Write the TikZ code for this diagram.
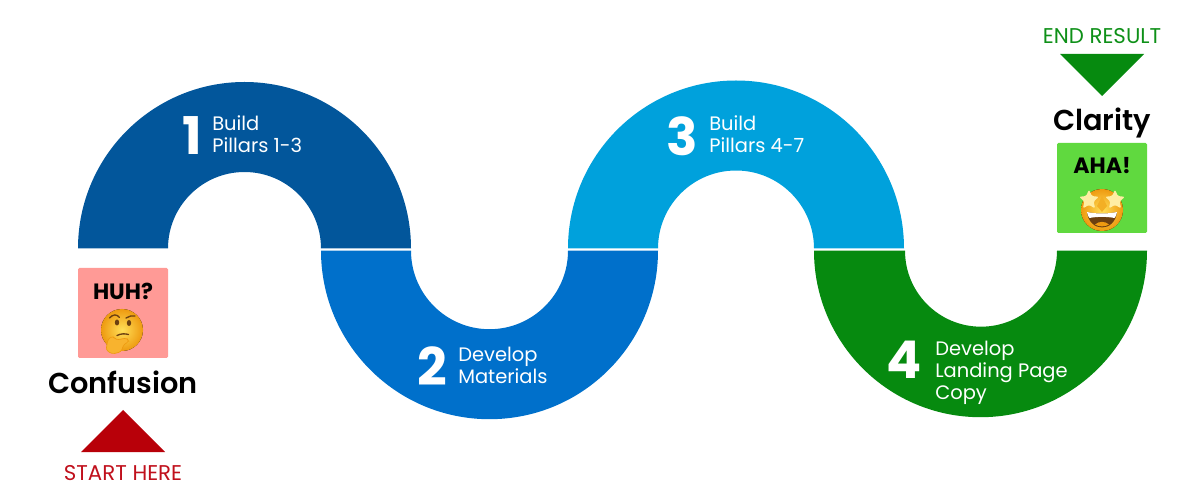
\documentclass[tikz,border=0pt]{standalone}
\usepackage{fontspec}
\setmainfont{Poppins}
\newfontfamily\titlefont{Poppins SemiBold}
\usetikzlibrary{shapes.geometric}
\definecolor{bandA}{HTML}{02569B}
\definecolor{bandB}{HTML}{0070CB}
\definecolor{bandC}{HTML}{00A1DC}
\definecolor{bandD}{HTML}{068A0F}
\definecolor{pinkbox}{HTML}{FF9A96}
\definecolor{greenbox}{HTML}{60D93F}
\definecolor{redtri}{HTML}{B80009}
\definecolor{redtxt}{HTML}{C0101C}
\definecolor{greentxt}{HTML}{0E9018}
\definecolor{faceout}{HTML}{EE9A10}
\definecolor{facein}{HTML}{FFDF58}
\definecolor{browc}{HTML}{6B3F10}
\definecolor{handc}{HTML}{F8B32E}
\tikzset{
  x=.75pt,y=.75pt,
  digit/.style={text=white,inner sep=0pt,font=\fontsize{39}{39}\selectfont\bfseries},
  steptext/.style={text=white,anchor=west,inner sep=0pt,font=\fontsize{14.6}{16.4}\selectfont,align=left},
  title/.style={text=black,inner sep=0pt,font=\titlefont\fontsize{21.6}{24}\selectfont},
  exclaim/.style={text=black,inner sep=0pt,font=\fontsize{16.6}{18}\selectfont\bfseries},
  cue/.style={inner sep=0pt,font=\fontsize{16}{17}\selectfont},
  facedisc/.style={inner color=facein,outer color=faceout},
  starglyph/.style={star,star points=5,star point ratio=2.1,inner sep=0pt,minimum size=15.5pt,fill=facein!55!white,rounded corners=1pt},
}
\begin{document}
\begin{tikzpicture}
\useasboundingbox (0,0) rectangle (1200,493);
% bands
\fill[bandA] (78,244.5) arc[start angle=180,end angle=0,radius=166.5] -- (321,244.5) arc[start angle=0,end angle=180,radius=76.5] -- cycle;
\fill[bandB] (321,242.3) arc[start angle=180,end angle=360,radius=168.5] -- (568,242.3) arc[start angle=360,end angle=180,radius=78.5] -- cycle;
\fill[bandC] (568,244.5) arc[start angle=180,end angle=0,radius=168] -- (814,244.5) arc[start angle=0,end angle=180,radius=78] -- cycle;
\fill[bandD] (814,242.3) arc[start angle=180,end angle=360,radius=166.5] -- (1057,242.3) arc[start angle=360,end angle=180,radius=76] -- cycle;
% band text
\node[digit] (d1) at (192,357) {1};
\node[steptext] (t1) at (212,358.5) {Build\\Pillars 1-3};
\node[digit] (d2) at (432,127) {2};
\node[steptext] (t2) at (458,128) {Develop\\Materials};
\node[digit] (d3) at (682,357) {3};
\node[steptext] (t3) at (709,358.5) {Build\\Pillars 4-7};
\node[digit] (d4) at (904,133) {4};
\node[steptext] (t4) at (935,120) {Develop\\Landing Page\\Copy};
% boxes
\fill[pinkbox,rounded corners=1pt] (78,135) rectangle (168,225);
\fill[greenbox,rounded corners=1pt] (1057,260) rectangle (1147,350);
\node[exclaim] (huh) at (123,202) {HUH?};
\node[exclaim] (aha) at (1102,327) {AHA!};
% thinking face
\begin{scope}[shift={(122,163)}]
  \fill[facedisc] (0,0) circle[radius=21];
  \draw[browc,line width=1pt,line cap=round] (-12.5,12) .. controls (-9,16) and (-5,16) .. (-2.5,12.5);
  \draw[browc,line width=1pt,line cap=round] (4,12) .. controls (7,14) and (10,14.5) .. (13,14);
  \fill[browc] (-5,7.5) ellipse[x radius=2.2,y radius=3];
  \fill[browc] (7,7) ellipse[x radius=2.2,y radius=3];
  \draw[browc,line width=1pt,line cap=round] (-5,-5.5) .. controls (-1,-3.5) and (3,-3.5) .. (6.5,-4.5);
  \filldraw[fill=handc,draw=faceout,line width=.5pt,rounded corners=2pt] (-14,-9) -- (-9,-6) -- (-6,-10) -- (5,-8) -- (7,-12) -- (2,-14) -- (-1,-22) -- (-10,-24) -- (-16,-20) -- cycle;
\end{scope}
% star-eyed face
\begin{scope}[shift={(1102,283)}]
  \fill[facedisc] (0,0) circle[radius=21];
  \fill[faceout!70!facein] (0,-2) -- (-5,4) -- (0,14) -- (5,4) -- cycle;
  \fill[browc] (-15,-2) .. controls (-6,-4) and (6,-4) .. (15,-2) .. controls (14,-12) and (7,-17.5) .. (0,-17.5) .. controls (-7,-17.5) and (-14,-12) .. cycle;
  \fill[white] (-15,-2) .. controls (-6,-4) and (6,-4) .. (15,-2) .. controls (14.6,-5) and (13.5,-7) .. (12.5,-8) .. controls (5,-6.5) and (-5,-6.5) .. (-12.5,-8) .. controls (-13.5,-7) and (-14.6,-5) .. cycle;
  \fill[faceout] (-7,-14.5) .. controls (-3,-11) and (3,-11) .. (7,-14.5) .. controls (3,-17) and (-3,-17) .. cycle;
  \node[starglyph] (starL) at (-13,10) {};
  \node[starglyph] (starR) at (13,10) {};
\end{scope}
% titles
\node[title] (confusion) at (123,111) {Confusion};
\node[title] (clarity) at (1102,370) {Clarity};
% triangles
\fill[redtri] (123,83) -- (81,41) -- (165,41) -- cycle;
\fill[bandD] (1060,439) -- (1144,439) -- (1102,397) -- cycle;
\node[cue,text=redtxt] (start) at (123,20) {START HERE};
\node[cue,text=greentxt] (endr) at (1102,457) {END RESULT};
\end{tikzpicture}
\end{document}
